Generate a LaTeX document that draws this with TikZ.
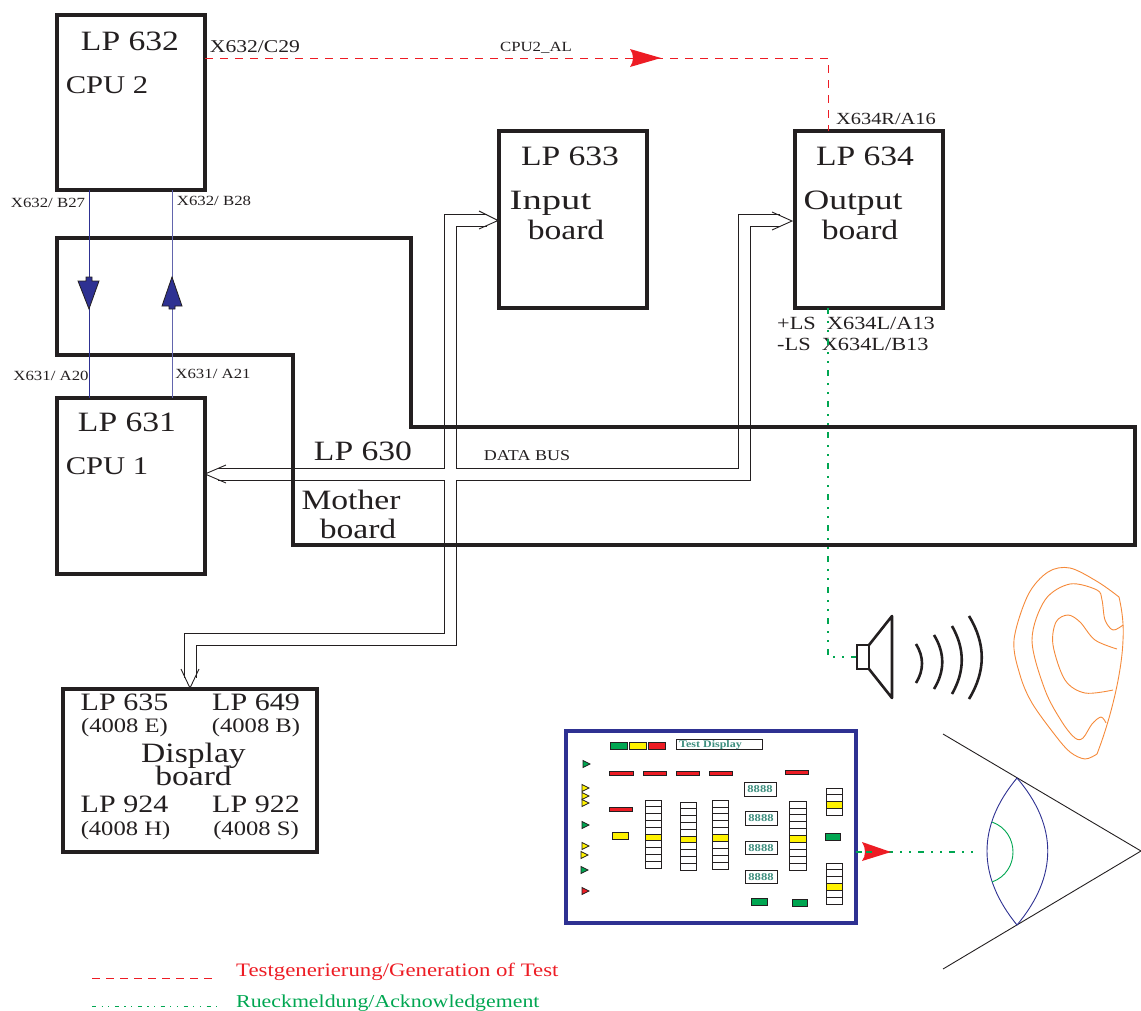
\documentclass[tikz,border=0pt]{standalone}
\usepackage{fontspec}
\usepackage{graphicx}
\setmainfont[FakeStretch=1.2]{Liberation Serif}
\usetikzlibrary{calc}
\definecolor{ink}{HTML}{231F20}
\definecolor{navy}{HTML}{2E3192}
\definecolor{alarm}{HTML}{ED1C24}
\definecolor{ack}{HTML}{00A651}
\definecolor{lamp}{HTML}{FFF200}
\definecolor{teal}{HTML}{3F8F7F}
\definecolor{earc}{HTML}{F58A3A}
\tikzset{
  x=1pt,y=-1pt,
  box/.style={draw=ink,line width=4pt,inner sep=0,outer sep=0,minimum width=148pt,minimum height=176pt,anchor=north west},
  big/.style={inner sep=0,text=ink,font=\fontsize{28}{28}\selectfont},
  cpu/.style={inner sep=0,text=ink,font=\fontsize{25.5}{25.5}\selectfont},
  mid/.style={inner sep=0,text=ink,font=\fontsize{25}{25}\selectfont},
  small/.style={inner sep=0,text=ink,font=\fontsize{20.5}{20.5}\selectfont},
  tiny/.style={inner sep=0,text=ink,font=\fontsize{14}{14}\selectfont},
  label/.style={inner sep=0,text=ink,font=\fontsize{18}{18}\selectfont},
  bus/.style={draw=ink,line width=0.9pt},
  dashred/.style={draw=alarm,line width=1pt,dash pattern=on 8pt off 7pt},
  dashack/.style={draw=ack,line width=1.1pt,dash pattern=on 5.5pt off 7.5pt on 1.5pt off 7.5pt on 1.5pt off 7.5pt},
  bar/.style={draw=ink,line width=0.8pt},
  seg/.style={inner sep=0,outer sep=0,draw=ink,line width=0.8pt,minimum width=32pt,minimum height=13.5pt,text=teal,font=\fontsize{10.5}{10.5}\selectfont\bfseries},
  sound/.style={draw=ink,line width=2.6pt},
  earline/.style={draw=earc,line width=0.9pt},
}
\newcommand{\lampbar}[5]{\draw[bar,fill=#5] (#1,#3) rectangle (#2,#4);}
\newcommand{\tri}[3]{\draw[bar,fill=#3] (#1,#2-3.5) -- (#1+7,#2) -- (#1,#2+3.5) -- cycle;}
\newcommand{\ladder}[6]{%
  \foreach \i in {1,...,#5}{%
    \pgfmathsetmacro{\ya}{#3+(\i-1)*(#4-#3)/#5}%
    \pgfmathsetmacro{\yb}{#3+\i*(#4-#3)/#5}%
    \ifnum\i=#6\relax
      \draw[bar,fill=lamp] (#1,\ya) rectangle (#2,\yb);
    \else
      \draw[bar,fill=white] (#1,\ya) rectangle (#2,\yb);
    \fi
  }}
\begin{document}
\begin{tikzpicture}
\useasboundingbox (0,0) rectangle (1141,1010);
% mother board
\draw[draw=ink,line width=4pt] (57,238) -- (411,238) -- (411,427) -- (1135,427) -- (1135,545) -- (293,545) -- (293,355) -- (57,355) -- cycle;
% boxes
\node[box,minimum height=175pt] (lp632) at (57,15) {};
\node[box,minimum height=177pt] (lp633) at (499,131) {};
\node[box,minimum height=177pt] (lp634) at (795,131) {};
\node[box] (lp631) at (57,398) {};
\node[box,minimum width=254pt,minimum height=163pt] (disp) at (63,689) {};
% box texts
\node[big] (t632) at (130,41) {LP 632};
\node[cpu] (tcpu2) at (107,85) {CPU 2};
\node[big] (t633) at (570,156) {LP 633};
\node[big] (tin) at (550.5,203) {\scalebox{1.15}[1]{Input}};
\node[big] (tinb) at (566,230) {board};
\node[big] (t634) at (865,156) {LP 634};
\node[big] (tout) at (853,203) {\scalebox{1.06}[1]{Output}};
\node[big] (toutb) at (860,230) {board};
\node[big] (t631) at (127,422) {LP 631};
\node[cpu] (tcpu1) at (107,466) {CPU 1};
\node[big] (t630) at (363,451) {LP 630};
\node[big] (tmo) at (351,500) {Mother};
\node[big] (tmob) at (358,529) {board};
\node[tiny,font=\fontsize{15}{15}\selectfont] (tbus) at (527,456) {DATA BUS};
\node[mid] (t635) at (124.5,702) {LP 635};
\node[mid] (t649) at (256,702) {LP 649};
\node[small] (t635b) at (124.5,728) {(4008 E)};
\node[small] (t649b) at (256,728) {(4008 B)};
\node[big,font=\fontsize{28}{23}\selectfont,align=center,anchor=north] (tdis) at (193.5,743) {Display\\[-4pt]board};
\node[mid] (t924) at (124.5,804) {LP 924};
\node[mid] (t922) at (256,804) {LP 922};
\node[small] (t924b) at (125.5,830.5) {(4008 H)};
\node[small] (t922b) at (256,830.5) {(4008 S)};
% small labels
\node[label] (l1) at (255,47) {X632/C29};
\node[tiny] (l2) at (536,48) {CPU2\_AL};
\node[label,font=\fontsize{17}{17}\selectfont] (l3) at (886,119) {X634R/A16};
\node[tiny] (l4) at (48,203) {X632/ B27};
\node[tiny] (l5) at (214,201) {X632/ B28};
\node[tiny] (l6) at (51,376) {X631/ A20};
\node[tiny] (l7) at (213,374) {X631/ A21};
\node[label,anchor=west,font=\fontsize{18.6}{18.6}\selectfont] (l8) at (777,323) {+LS\ \ X634L/A13};
\node[label,anchor=west,font=\fontsize{18.6}{18.6}\selectfont] (l9) at (777,344) {-LS\ \ X634L/B13};
% links 632 - 631
\draw[draw=navy,line width=0.9pt] ($(lp632.south west)+(32,0)$) coordinate (da) -- ($(lp631.north west)+(32,0)$) coordinate (db);
\draw[draw=navy!75,line width=0.9pt] ($(lp632.south west)+(115,0)$) coordinate (ua) -- ($(lp631.north west)+(115,0)$) coordinate (ub);
\draw[draw=ink,line width=0.8pt,fill=navy] (86,277) -- (92,277) -- (92,281) -- (99,281) -- (89,309) -- (78,281) -- (86,281) -- cycle;
\draw[draw=ink,line width=0.8pt,fill=navy] (169,309) -- (175,309) -- (175,306) -- (182,306) -- (172,277) -- (162,306) -- (169,306) -- cycle;
% red signal
\draw[dashred] ($(lp632.north east)+(0,43)$) -- (828,58) -- ($(lp634.north west)+(33,0)$);
\fill[alarm] (661,58) -- (630,49) .. controls (634,55) and (634,61) .. (630,67) -- cycle;
% bus
\coordinate (tipOut) at (792,221);
\coordinate (tipCpu) at (205,474);
\coordinate (tipDisp) at (190,688);
\draw[bus] (tipCpu) ++(21,-9) -- (tipCpu) -- ++(21,9);
\draw[bus] (479,211) -- (498,220.5) -- (479,229);
\draw[bus] (772,212) -- (tipOut) -- (772,230);
\draw[bus] (181,669) -- (tipDisp) -- (199,669);
\draw[bus] (218,468) -- (444,468) -- (444,214) -- (487,214);
\draw[bus] (218,480) -- (444,480) -- (444,633) -- (184,633) -- (184,678);
\draw[bus] (487,226) -- (456,226) -- (456,468) -- (738,468) -- (738,214) -- (780,214);
\draw[bus] (780,226) -- (750,226) -- (750,480) -- (456,480) -- (456,645) -- (196,645) -- (196,678);
% ack from output board to speaker
\coordinate (spk) at (858,657);
\draw[dashack] ($(lp634.south west)+(33,0)$) -- (828,657) -- (spk);
% speaker
\draw[sound] (857,645) rectangle (869,669);
\draw[sound,line join=round] (869,645) -- (892,616) -- (892,698) -- (869,669);
\draw[sound] (916,644) .. controls (924,657) and (924,670) .. (916,683);
\draw[sound] (934,635) .. controls (945,653) and (945,671) .. (934,689);
\draw[sound] (952,626) .. controls (965,649) and (965,671) .. (952,694);
\draw[sound] (969,616) .. controls (986,644) and (986,671) .. (969,699);
% ear
\draw[earline] plot[smooth,tension=0.55] coordinates {(1119,597) (1098,582) (1070,568) (1048,572) (1028,595) (1014,640) (1020,675) (1032,703) (1055,735) (1070,752) (1085,759) (1097,754)};
\draw[earline] (1097,754) .. controls (1112,715) and (1122,670) .. (1123,640) .. controls (1124,625) and (1122,610) .. (1119,597);
\draw[earline] plot[smooth,tension=0.55] coordinates {(1123,625) (1113,630) (1105,620) (1102,600) (1097,590) (1070,584) (1045,600) (1032,640) (1045,690) (1062,722) (1075,738) (1083,738) (1092,724) (1101,717) (1106,723)};
\draw[earline] plot[smooth,tension=0.55] coordinates {(1117,649) (1095,640) (1080,622) (1068,615) (1056,622) (1053,645) (1065,680) (1085,693) (1113,690)};
% eye
\coordinate (lensT) at (1017,778);
\coordinate (lensB) at (1017,925);
\coordinate (eyeTip) at (1141,851);
\draw[draw=ink,line width=0.9pt] (943,734) -- (eyeTip) -- (943,969);
\draw[draw=navy,line width=0.9pt] (lensT) .. controls (977,826) and (977,876) .. (lensB) .. controls (1058,876) and (1058,826) .. (lensT);
\draw[draw=ack,line width=0.9pt] (992,822) .. controls (1020,832) and (1020,872) .. (992,882);
% test panel
\node[draw=navy,line width=4pt,inner sep=0,outer sep=0,minimum width=290pt,minimum height=192pt,anchor=north west,fill=white] (panel) at (566,731) {};
\lampbar{610}{627}{742}{749}{ack}
\lampbar{629}{646}{742}{749}{lamp}
\lampbar{648}{665}{742}{749}{alarm}
\node[draw=ink,line width=0.8pt,inner sep=0,outer sep=0,minimum width=86pt,minimum height=10pt,anchor=north west] (tdbox) at (676,739) {};
\node[inner sep=0,text=teal,anchor=west,font=\fontsize{10}{10}\selectfont\bfseries] (tdt) at (679,745) {Test Display};
\tri{583}{764}{ack}
\tri{582}{788}{lamp}
\tri{582}{796}{lamp}
\tri{582}{803}{lamp}
\tri{582}{825}{ack}
\tri{582}{846}{lamp}
\tri{581}{855}{lamp}
\tri{581}{870}{ack}
\tri{582}{891}{alarm}
\lampbar{609}{633}{771}{775}{alarm}
\lampbar{643}{666}{771}{775}{alarm}
\lampbar{676}{699}{771}{775}{alarm}
\lampbar{709}{732}{771}{775}{alarm}
\lampbar{785}{808}{770}{774}{alarm}
\lampbar{609}{632}{807}{811}{alarm}
\lampbar{612}{628}{832}{839}{lamp}
\lampbar{825}{840}{833}{840}{ack}
\lampbar{751}{767}{898}{905}{ack}
\lampbar{792}{807}{899}{906}{ack}
\ladder{645}{661}{800}{868}{10}{6}
\ladder{680}{696}{802}{870}{10}{6}
\ladder{712}{728}{800}{869}{10}{6}
\ladder{789}{806}{801}{870}{10}{6}
\ladder{826}{842}{788}{815}{4}{3}
\ladder{826}{842}{863}{904}{6}{4}
\node[seg] (s1) at (760,789.5) {8888};
\node[seg] (s2) at (761,818.5) {8888};
\node[seg] (s3) at (761,848) {8888};
\node[seg] (s4) at (761,877) {8888};
% ack from panel to eye
\coordinate (ackEnd) at (973,852);
\draw[dashack] (panel.east |- ackEnd) -- (ackEnd);
\fill[alarm] (891,852) -- (862,842) .. controls (866,848) and (866,856) .. (862,861) -- cycle;
\draw[draw=ack,line width=1.1pt] (866,852) -- (872,852);
% legend
\coordinate (la) at (92,978);
\coordinate (lb) at (218,978);
\coordinate (lc) at (92,1006.5);
\coordinate (ld) at (220,1006.5);
\draw[dashred,dash pattern=on 7.5pt off 6.5pt] (la) -- (lb);
\draw[dashack,dash pattern=on 4pt off 5.5pt on 1.2pt off 5.5pt on 1.2pt off 5.5pt] (lc) -- (ld);
\node[inner sep=0,anchor=west,text=alarm,font=\fontsize{19}{19}\selectfont] (lg1) at (236,972) {Testgenerierung/Generation of Test};
\node[inner sep=0,anchor=west,text=ack,font=\fontsize{18.2}{18.2}\selectfont] (lg2) at (236,1003) {Rueckmeldung/Acknowledgement};
\end{tikzpicture}
\end{document}
